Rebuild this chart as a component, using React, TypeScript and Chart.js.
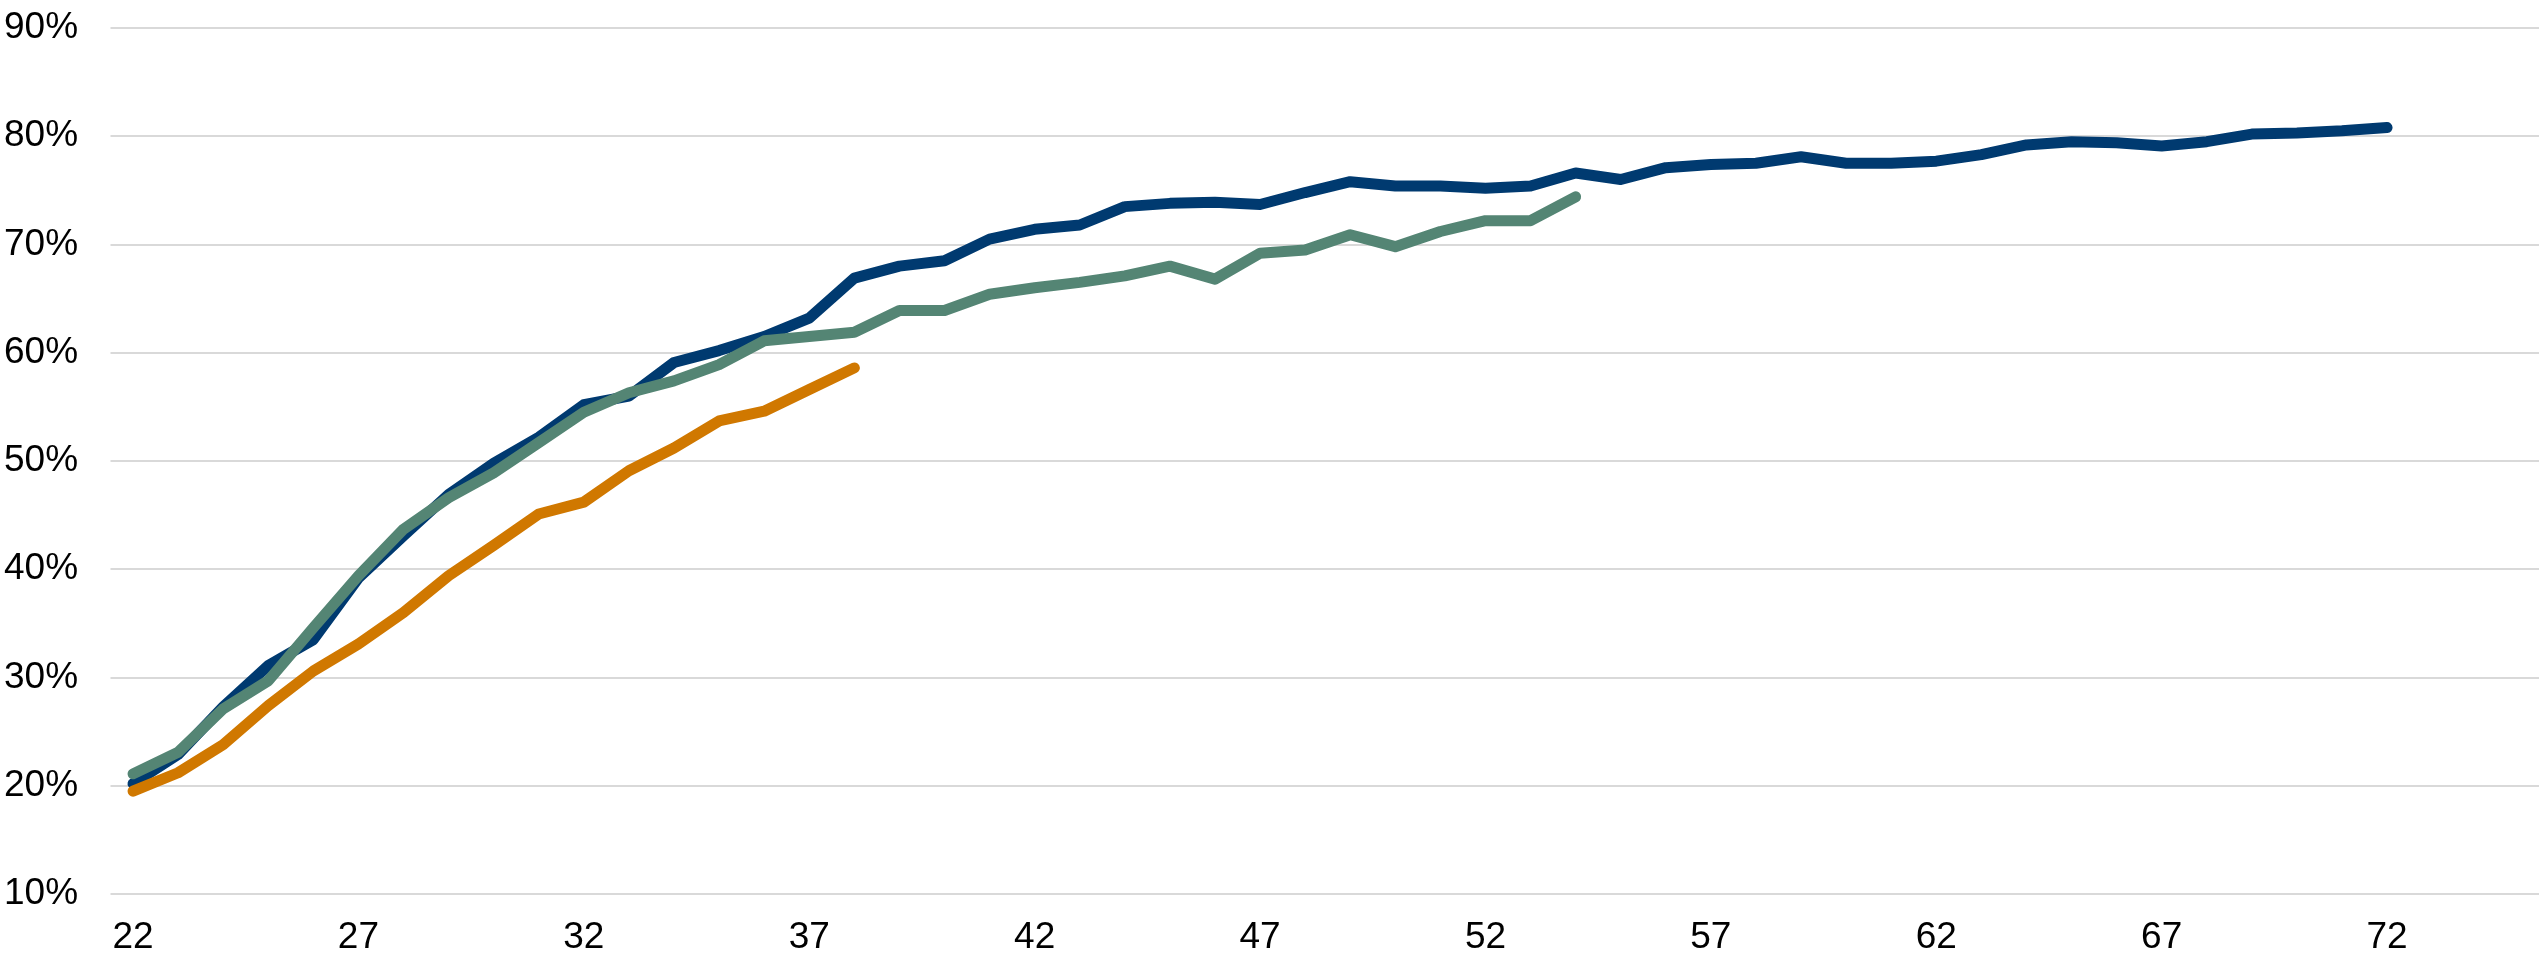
import React, { useEffect, useRef } from "react";
import { Chart, registerables } from "chart.js";

Chart.register(...registerables);

const blueAges = Array.from({ length: 51 }, (_, i) => 22 + i);
const blueValues = [
  20.2, 22.9, 27.3, 31.1, 33.5, 39.2, 43.1, 46.9, 49.8, 52.2, 55.2,
  56.0, 59.1, 60.2, 61.5, 63.2, 66.9, 68.0, 68.5, 70.5, 71.4,
  71.8, 73.5, 73.8, 73.9, 73.7, 74.8, 75.8, 75.4, 75.4, 75.2, 75.4, 76.6, 76.0, 77.1,
  77.4, 77.5, 78.1, 77.5, 77.5, 77.7, 78.3, 79.2, 79.5, 79.4, 79.1, 79.5, 80.2, 80.3, 80.5, 80.8,
];
const greenAges = Array.from({ length: 33 }, (_, i) => 22 + i);
const greenValues = [
  21.1, 23.1, 27.1, 29.7, 34.6, 39.4, 43.7, 46.6, 48.9, 51.7, 54.5,
  56.3, 57.4, 58.9, 61.1, 61.5, 61.9, 63.9, 63.9, 65.4, 66.0,
  66.5, 67.1, 68.0, 66.8, 69.2, 69.5, 70.9, 69.8, 71.2, 72.2, 72.2, 74.4,
];
const orangeAges = Array.from({ length: 17 }, (_, i) => 22 + i);
const orangeValues = [
  19.5, 21.2, 23.8, 27.4, 30.6, 33.1, 36.0, 39.4, 42.2, 45.1, 46.2,
  49.1, 51.2, 53.7, 54.6, 56.6, 58.6,
];
const xTickLabels = [22, 27, 32, 37, 42, 47, 52, 57, 62, 67, 72];
const yTickValues = [10, 20, 30, 40, 50, 60, 70, 80, 90];

const toPoints = (ages: number[], vals: number[]) =>
  ages.map((a, i) => ({ x: a, y: vals[i] }));

const FONT = "'Liberation Sans', Arial, sans-serif";

const gridPlugin = {
  id: "hgrid",
  beforeDatasetsDraw(chart: any) {
    const { ctx, chartArea, scales } = chart;
    const y = scales.y;
    ctx.save();
    ctx.strokeStyle = "#d9d9d9";
    ctx.lineWidth = 2;
    for (const v of yTickValues) {
      const py = Math.round(y.getPixelForValue(v));
      ctx.beginPath();
      ctx.moveTo(chartArea.left, py);
      ctx.lineTo(chartArea.right, py);
      ctx.stroke();
    }
    ctx.restore();
  },
};

export default function App() {
  const ref = useRef<HTMLCanvasElement | null>(null);
  useEffect(() => {
    if (!ref.current) return;
    const common = {
      borderWidth: 11,
      pointRadius: 0,
      pointHoverRadius: 0,
      tension: 0,
      borderCapStyle: "round" as const,
      borderJoinStyle: "round" as const,
      fill: false,
    };
    const chart = new Chart(ref.current, {
      type: "line",
      plugins: [gridPlugin],
      data: {
        datasets: [
          {
            ...common,
            label: "Blue",
            data: toPoints(blueAges, blueValues),
            borderColor: "#003a70",
            order: 2,
          },
          {
            ...common,
            label: "Green",
            data: toPoints(greenAges, greenValues),
            borderColor: "#548574",
            order: 0,
          },
          {
            ...common,
            label: "Orange",
            data: toPoints(orangeAges, orangeValues),
            borderColor: "#d07800",
            order: 1,
          },
        ],
      },
      options: {
        animation: false,
        responsive: false,
        layout: { padding: { top: 28, left: 4, right: 0, bottom: 0 } },
        plugins: {
          legend: { display: false },
          tooltip: { enabled: false },
          title: { display: false },
        },
        scales: {
          x: {
            type: "linear",
            min: 21.5,
            max: 75.37,
            grid: { display: false, drawTicks: false, tickLength: 0 },
            border: { display: false },
            afterBuildTicks: (axis: any) => {
              axis.ticks = xTickLabels.map((v) => ({ value: v }));
            },
            afterFit: (axis: any) => {
              axis.height = 64;
            },
            ticks: {
              autoSkip: false,
              maxRotation: 0,
              padding: 22,
              color: "#000",
              font: { family: FONT, size: 37 },
              callback: (v: any) => String(v),
            },
          },
          y: {
            min: 10,
            max: 90,
            grid: { display: false, drawTicks: false, tickLength: 0 },
            border: { display: false },
            afterBuildTicks: (axis: any) => {
              axis.ticks = yTickValues.map((v) => ({ value: v }));
            },
            afterFit: (axis: any) => {
              axis.width = 106.5;
            },
            ticks: {
              padding: 0,
              crossAlign: "far",
              color: "#000",
              font: { family: FONT, size: 37 },
              callback: (v: any) => v + "%",
            },
          },
        },
      },
    });
    return () => chart.destroy();
  }, []);
  return (
    <div
      style={{
        position: "fixed",
        left: 0,
        top: 0,
        width: 2539,
        height: 958,
        background: "#fff",
        overflow: "hidden",
      }}
    >
      <canvas ref={ref} width={2539} height={958} style={{ display: "block" }} />
    </div>
  );
}
